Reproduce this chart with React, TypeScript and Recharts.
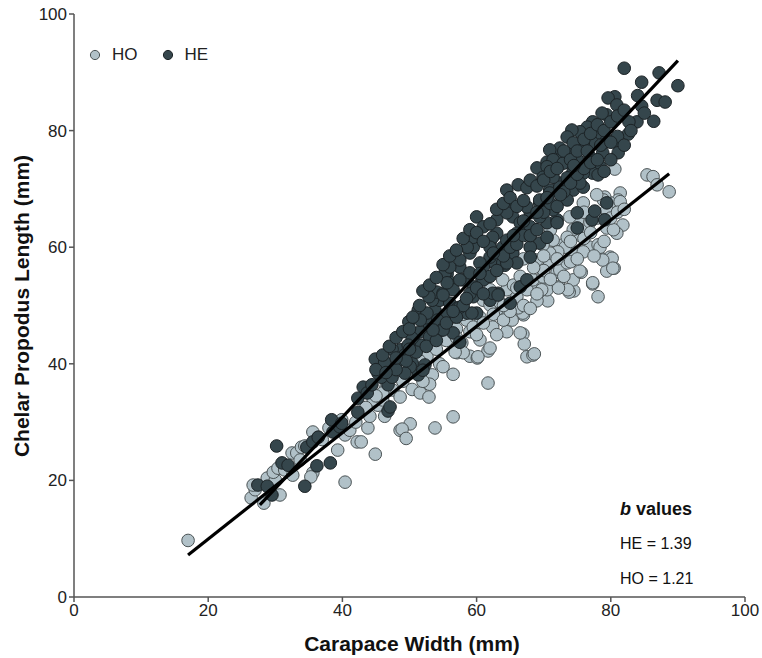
import React from 'react';
import {
  ScatterChart,
  Scatter,
  XAxis,
  YAxis,
  Legend,
} from 'recharts';

document.body.style.margin = '0';

// Hembras ovígeras (HO) - puntos claros
const hoPoints: [number, number][] = [
  [17, 9.7], [26.4, 17.0], [27, 18.4], [26.7, 19.2], [28.3, 16.1], [28.8, 20.4], [30, 20.1], [30.7, 17.5],
  [29.7, 21.4], [30.4, 22.1], [31.4, 21.8], [32.6, 20.9], [32.5, 24.7], [33.2, 24.7], [33.9, 25.7], [33.7, 23.5],
  [35.6, 21.3], [34.4, 25.9], [35.6, 28.3], [36.4, 27.4], [35.3, 20.6], [40.4, 19.7], [39.3, 25.2], [40.4, 27.8],
  [41.1, 28.6], [42.2, 26.6], [42.8, 26.6], [44.9, 24.5], [43.8, 29], [44.1, 31], [46.3, 31], [45.3, 32.9],
  [39.9, 30.4], [48.6, 28.6], [47.5, 35.5], [44.6, 33.8], [46, 33.8],
  [52.6, 41.3], [53.4, 38.1], [56.5, 38.2], [61.7, 36.7], [50.4, 35.6], [51.6, 35], [52.9, 34.3], [48.6, 34.3],
  [50.1, 29.7], [48.9, 28.8], [49.5, 27.2], [53.8, 29], [56.5, 30.9], [57.1, 41.9], [59, 41.3], [60.1, 41],
  [61.7, 42.2], [67.5, 41.2], [68.4, 41.5], [57.8, 43.6], [60.5, 44.1], [59, 45.5], [58, 41.9],
  [54.5, 40], [55.5, 44], [57, 46], [58.5, 47.5], [50.5, 38.5], [51.5, 40.5], [49, 37], [46.5, 36],
  [78.1, 51.5], [77.3, 53.7], [74.5, 52.5], [73.8, 52.3], [72.3, 53.2], [70.6, 50.8], [69, 50.8], [67, 48.4],
  [66.9, 45.1], [67.1, 43.4], [68.6, 41.7], [74.4, 54.4], [75.6, 55.7], [78.7, 58], [79.9, 58.3], [80.5, 56.4],
  [79.4, 55.9], [76.9, 60], [78.1, 60.4], [72, 55.7], [69.9, 54], [68.4, 52.7], [70.5, 52.7], [74.4, 59],
  [72.9, 60.4], [71.2, 58.7],
  [80.6, 73.4], [85.4, 72.4], [86.3, 72.1], [86.9, 70.7], [88.7, 69.5], [81.4, 69.3], [81.1, 68.1], [79.9, 67.6],
  [79.1, 68.6], [81.8, 63.8], [80.9, 62.4], [79.4, 63.3], [78.4, 60], [75, 62.1], [75.1, 64.7], [73.9, 65.2],
  [73.2, 60], [71.4, 61.2], [80.4, 63], [80.2, 58.1], [78.8, 57.8], [80.3, 56.4], [77.3, 53.9], [73.6, 52.7],
  [75.4, 55.9], [72.2, 53], [66.9, 48.7], [66.5, 45.3], [62, 42.7], [60.2, 41.2], [56.8, 42], [62.4, 46.3],
  [64.5, 45.5], [65.3, 47.5], [63.9, 48], [63, 49.2], [66.2, 49.6], [66, 51.5], [67.5, 52.7], [69.7, 52.7],
  [68.4, 54.4], [69.9, 54.9], [70.9, 57.3], [72.4, 56.1], [73.5, 57.3], [75.9, 59.2], [72.1, 59.2], [76.5, 63],
  [76.9, 64.3], [74.4, 63], [73.5, 61.7], [70.9, 59], [69.9, 60.4], [68, 60], [69, 57.8], [64.5, 52.7],
  [63.9, 54.4], [62, 52.7], [61, 50.9], [60.5, 48], [59.5, 46.3], [62, 50.1], [79.4, 66.4], [78.9, 68.1],
  [81.4, 67.8], [77.9, 69], [75.9, 67.6],
  [60, 45], [61, 47], [62.5, 48.5], [63.5, 50.5], [64, 47.5], [65, 49], [65.5, 53.5], [66.5, 55],
  [67, 50], [68, 49.5], [69, 52], [70, 56], [71, 54.5], [72, 58], [73, 55], [74, 57.5],
  [75, 58], [76, 61.5], [77, 62.5], [77.5, 58.5], [78, 65], [79, 61], [80, 65], [81, 66],
  [82, 66.5], [76, 66], [74, 61], [71, 63], [70, 58.5], [68.5, 56.5], [67, 58], [66, 53],
  [64, 50], [63, 45], [58, 48.5], [57, 44.5], [55, 39.5], [54, 42.5], [53, 36.5], [52, 37],
  [46, 35], [45, 34.5], [43.5, 32.5], [42, 30], [37, 27], [38, 29],
];

// Hembras en estado de reposo (HE) - puntos oscuros
const hePoints: [number, number][] = [
  [30.2, 25.9], [27.4, 19.2], [28.8, 19], [29.5, 17.5], [31, 23], [31.9, 22.6], [34.4, 19], [36.2, 22.5],
  [38.2, 23], [34.7, 25.7], [35.6, 26.6], [36.4, 27.4], [38.6, 28.3], [39.6, 29.2], [38.4, 30.4], [39.9, 29.8],
  [42.3, 31.7], [43.1, 36], [42.3, 34.1], [46.8, 31.9], [46.8, 36.4], [43.7, 35], [44.9, 40.8],
  [44.4, 36.4], [45.8, 37.7], [47.8, 39.3], [48.7, 42.4], [50.8, 43.7], [51.6, 45.5], [53, 46.7], [53.8, 49.2],
  [54.5, 50.9], [49.3, 41.5], [46.3, 40.3], [45.3, 38.4], [48.6, 40.7], [52.5, 47.9], [53.4, 50.9], [54.1, 52.3],
  [50.4, 40.1], [52.3, 39.8], [51.3, 38.1], [55.7, 48.4], [51.3, 49.2], [49.9, 47.2],
  [55.6, 55.4], [57.5, 56.6], [52.9, 51.5], [55, 52.1], [56, 50.4], [57.2, 49.6], [52.6, 48.7], [51.6, 47.5],
  [54.2, 47.5], [54.8, 45.8], [56.5, 45.3], [57.5, 43.7], [53, 44.6], [51.8, 43.2], [50.4, 44.4], [49.8, 43.2],
  [47.4, 42.5], [50.1, 39.5], [49.3, 38.4], [52, 38.9], [47.4, 37.7], [47.1, 32.6], [60, 48.7], [58.6, 48.7],
  [62, 50.9], [63.2, 52.1], [64.2, 56.9], [62.7, 57.3], [58, 54.4], [60.8, 54.4], [59.5, 51.5], [56, 54],
  [60, 65.2], [55.3, 55.6], [59, 59], [59.5, 60], [62, 60.7], [63, 62.4], [64.5, 66.9], [65.4, 65.2],
  [66.2, 70.7], [67.5, 70.2], [69, 73.6], [70.5, 74.6], [72, 75.5], [73.5, 75], [74.4, 76.2], [66.9, 63.5],
  [68, 65.9], [69.4, 67.6], [70.5, 64.2], [72, 64.7], [69.4, 60.7], [68, 60], [65.4, 59], [63.9, 57.3],
  [61, 56.6], [64.5, 69.8], [70.9, 69.8], [72.4, 71], [74.2, 72.4],
  [57.5, 49.7], [59.3, 48.7], [56.5, 52.7], [55, 51.8], [55, 45.8], [62.4, 52.1], [63.2, 51.8], [66.5, 53.2],
  [65, 50.4], [67.5, 54.4], [70.5, 61.7], [72, 64.2], [75, 63.3], [77.2, 64.7], [79.4, 67.6], [79.1, 64.7],
  [77.6, 66.2], [68, 58.3], [66, 57.3], [64.5, 57.3], [63.9, 60], [62, 58.3], [60.5, 57.3], [59, 55.6],
  [57.5, 54.4], [59.5, 53.2], [61, 54.4], [64.5, 65.9], [66.5, 64.2], [67.5, 66.9], [69.4, 68.1], [70.9, 69.3],
  [72.4, 70.3], [74.4, 69.8], [75.9, 70.3], [73.5, 68.1], [75, 65.9], [71.4, 66.4], [69.4, 65.2], [68, 63.5],
  [66, 62.4], [64.5, 61.2], [62.4, 61.7], [63, 64.7], [61, 63.5], [59.5, 61.7], [62, 60], [58.6, 60],
  [57.5, 57.8], [56, 56.6], [55.6, 53.9],
  [82, 90.7], [84.6, 88.3], [87.2, 89.9], [90, 87.7], [86.9, 85.2], [88.1, 84.9], [84.6, 84.2], [86.4, 81.6],
  [83.9, 81.5], [82.7, 81.5], [80.6, 85.8], [79.6, 85.6], [80.9, 84.4], [79.4, 82.7], [82.6, 79.4], [81.4, 77.2],
  [81.1, 76.2], [78.7, 83], [77.3, 81.5], [76.5, 80.6], [75.4, 79.8], [74.2, 80.1], [73.5, 78.9], [78.4, 79.6],
  [79.4, 78.4], [77.3, 77.9], [75.9, 77.9], [74.4, 77.9], [72.4, 77], [70.9, 76.7], [71.4, 75], [72.9, 74.4],
  [75, 75], [76.9, 75.5], [78.8, 76.2], [78.4, 73.8], [77.3, 72.7], [78.1, 72.4], [75.9, 72.7], [74.4, 73.2],
  [70.5, 73.8], [69.9, 72], [71.4, 72], [73.5, 71.9], [75.4, 71],
  [45, 39], [46, 41.5], [47, 43], [48, 44.5], [49, 45.5], [50, 46], [50.5, 48], [51.5, 50],
  [52, 52.5], [53, 53.5], [54, 54.8], [55, 57], [56, 58.5], [57, 59.5], [58, 61.5], [59, 63],
  [60, 62.5], [61, 61], [62, 64], [63, 66.5], [64, 67.5], [65, 68.5], [66, 67], [67, 68],
  [68, 71.5], [69, 70.5], [70, 71.5], [71, 73], [72, 73.5], [73, 76.5], [74, 75], [75, 76.5],
  [76, 78.5], [77, 79.5], [78, 81], [79, 80], [80, 81.5], [81, 82.5], [82, 83.5],
  [48, 39], [49.5, 40.5], [51, 42], [52.5, 43], [54, 44], [55.5, 47], [57, 48], [58, 50],
  [59, 52], [60, 53], [61, 52], [62, 55], [63, 56], [64, 58.5], [65, 60], [66, 60.5],
  [67, 62], [68, 62], [69, 63], [70, 66], [71, 67.5], [72, 67], [73, 69.5], [74, 71],
  [75, 72.5], [76, 73.5], [77, 74.5], [78, 75], [79, 73], [80, 75], [81, 79], [82, 77.5], [83, 80],
  [46.5, 38.5], [48, 41], [50, 42.5], [53.5, 45.8], [56.5, 49], [58.5, 51.2], [60.5, 55.5], [62.5, 59],
  [65.5, 62], [67, 64.5], [69, 66], [70.5, 68.5], [72.5, 69], [74.5, 74], [76.5, 76.5], [78.5, 77.5],
  [80, 78], [84, 86], [85, 83],
];

// Rectas de regresión (extremos)
const heLine: [number, number][] = [[27.7, 15.8], [90, 92]];
const hoLine: [number, number][] = [[17, 7.2], [88.7, 72.6]];

const axisTicks = [0, 20, 40, 60, 80, 100];

const HO_FILL = '#b1c1c8';
const HO_STROKE = '#4b5355';
const HE_FILL = '#35464c';
const HE_STROKE = '#1c2326';
const FONT = 'Arial, "Liberation Sans", sans-serif';

const toObj = (pts: [number, number][]) => pts.map(([x, y]) => ({ x, y }));

const dot = (fill: string, stroke: string) => (props: any) => (
  <circle cx={props.cx} cy={props.cy} r={6.3} fill={fill} stroke={stroke} strokeWidth={1} />
);

const noDot = () => <g />;

const YTitle = () => (
  <text
    x={29}
    y={306}
    transform="rotate(-90 29 306)"
    textAnchor="middle"
    fontFamily={FONT}
    fontSize={21}
    fontWeight="bold"
    fill="#111"
  >
    Chelar Propodus Length (mm)
  </text>
);

const XTitle = () => (
  <text x={412} y={651} textAnchor="middle" fontFamily={FONT} fontSize={21} fontWeight="bold" fill="#111">
    Carapace Width (mm)
  </text>
);

const renderLegend = () => (
  <div style={{ display: 'flex', alignItems: 'center', fontFamily: FONT, fontSize: 17, color: '#222' }}>
    <svg width={12} height={12}>
      <circle cx={6} cy={6} r={4.6} fill={HO_FILL} stroke={HO_STROKE} strokeWidth={1} />
    </svg>
    <span style={{ marginLeft: 11, marginRight: 24 }}>HO</span>
    <svg width={12} height={12}>
      <circle cx={6} cy={6} r={4.6} fill={HE_FILL} stroke={HE_STROKE} strokeWidth={1} />
    </svg>
    <span style={{ marginLeft: 11 }}>HE</span>
  </div>
);

export default function App() {
  const tickStyle = { fontFamily: FONT, fontSize: 17, fill: '#222' };
  return (
    <div style={{ position: 'relative', width: 762, height: 658, background: '#fff' }}>
      <ScatterChart width={762} height={658} margin={{ top: 14, right: 17, bottom: 21, left: 0 }}>
        <XAxis
          type="number"
          dataKey="x"
          domain={[0, 100]}
          ticks={axisTicks}
          height={40}
          tick={tickStyle}
          tickSize={5}
          axisLine={{ stroke: '#555', strokeWidth: 1.5 }}
          tickLine={{ stroke: '#555', strokeWidth: 1.5 }}
          label={<XTitle />}
        />
        <YAxis
          type="number"
          dataKey="y"
          domain={[0, 100]}
          ticks={axisTicks}
          width={74}
          tick={tickStyle}
          tickSize={5}
          axisLine={{ stroke: '#555', strokeWidth: 1.5 }}
          tickLine={{ stroke: '#555', strokeWidth: 1.5 }}
          label={<YTitle />}
        />
        <Legend
          layout="horizontal"
          verticalAlign="middle"
          align="center"
          content={renderLegend}
          wrapperStyle={{ top: 45, left: 89, width: 'auto', height: 'auto' }}
        />
        <Scatter name="HO" data={toObj(hoPoints)} shape={dot(HO_FILL, HO_STROKE)} isAnimationActive={false} />
        <Scatter name="HE" data={toObj(hePoints)} shape={dot(HE_FILL, HE_STROKE)} isAnimationActive={false} />
        <Scatter
          name="HE fit"
          data={toObj(heLine)}
          shape={noDot}
          line={{ stroke: '#000', strokeWidth: 3.2 }}
          legendType="none"
          isAnimationActive={false}
        />
        <Scatter
          name="HO fit"
          data={toObj(hoLine)}
          shape={noDot}
          line={{ stroke: '#000', strokeWidth: 3.2 }}
          legendType="none"
          isAnimationActive={false}
        />
      </ScatterChart>
      <div style={{ position: 'absolute', left: 620, top: 498, fontFamily: FONT, color: '#111' }}>
        <div style={{ fontSize: 18, fontWeight: 'bold', lineHeight: '22px' }}>
          <i>b</i> values
        </div>
        <div style={{ fontSize: 16, lineHeight: '18px', marginTop: 15 }}>HE = 1.39</div>
        <div style={{ fontSize: 16, lineHeight: '18px', marginTop: 17 }}>HO = 1.21</div>
      </div>
    </div>
  );
}
